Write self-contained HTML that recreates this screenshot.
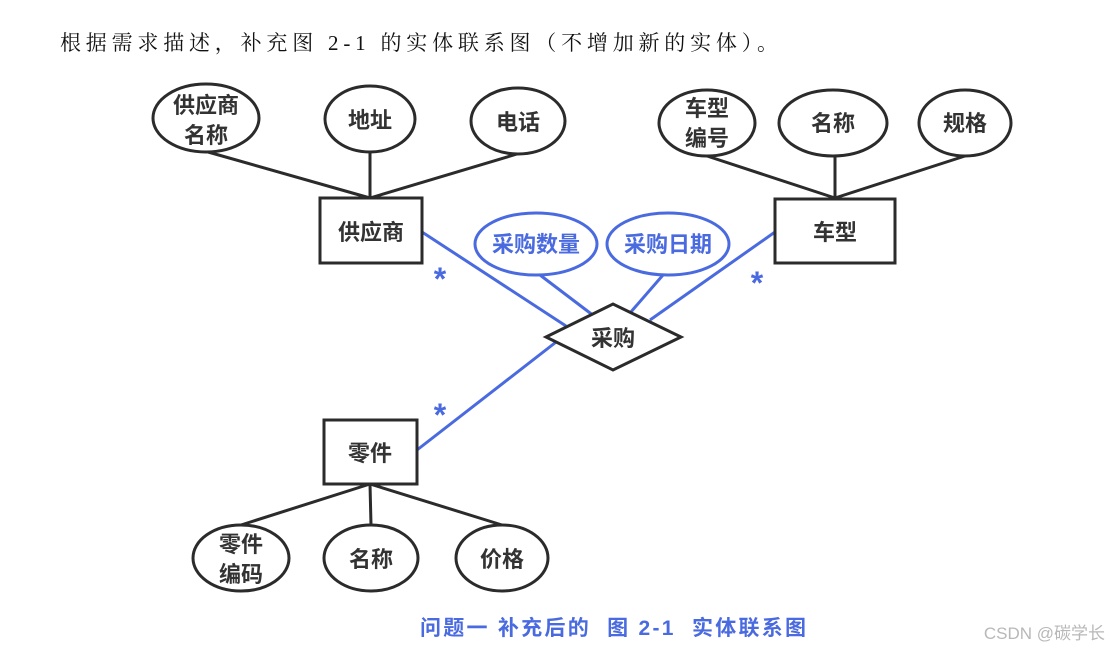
<!DOCTYPE html>
<html><head><meta charset="utf-8"><style>
body{margin:0;background:#fff;width:1111px;height:651px;overflow:hidden}
svg text{font-family:"Liberation Sans","Noto Sans CJK SC",sans-serif}
</style></head><body>
<svg width="1111" height="651" viewBox="0 0 1111 651" xmlns="http://www.w3.org/2000/svg">
<text x="60" y="50" font-size="21" textLength="718" style="font-family:'Liberation Serif','Noto Serif CJK SC',serif" fill="#111">根据需求描述，补充图 2-1 的实体联系图（不增加新的实体）。</text>
<g stroke="#2b2b2b" stroke-width="3" fill="none">
<line x1="208" y1="152" x2="370" y2="198"/><line x1="370" y1="152" x2="370" y2="198"/><line x1="517" y1="154" x2="370" y2="198"/>
<line x1="707" y1="156" x2="835" y2="198"/><line x1="835" y1="156" x2="835" y2="198"/><line x1="965" y1="156" x2="835" y2="198"/>
<line x1="241" y1="525" x2="370" y2="484"/><line x1="371" y1="525" x2="370" y2="484"/><line x1="502" y1="525" x2="370" y2="484"/>
</g>
<g stroke="#4a6ae0" stroke-width="3" fill="none">
<line x1="422" y1="232" x2="566" y2="326"/><line x1="775" y1="232" x2="650" y2="320"/><line x1="417" y1="450" x2="578" y2="325"/>
<line x1="540" y1="275" x2="594" y2="316"/><line x1="663" y1="275" x2="630" y2="313"/>
</g>
<g stroke="#2b2b2b" stroke-width="3" fill="#fff">
<ellipse cx="206" cy="118" rx="53" ry="34"/><ellipse cx="370" cy="119" rx="45" ry="33"/><ellipse cx="518" cy="121" rx="47" ry="33"/>
<ellipse cx="707" cy="123" rx="48" ry="33"/><ellipse cx="833" cy="123" rx="54" ry="33"/><ellipse cx="965" cy="123" rx="46" ry="33"/>
<ellipse cx="241" cy="558" rx="48" ry="33"/><ellipse cx="371" cy="558" rx="47" ry="33"/><ellipse cx="502" cy="558" rx="46" ry="33"/>
<rect x="320" y="198" width="102" height="65"/><rect x="775" y="199" width="120" height="64"/><rect x="324" y="420" width="93" height="64"/>
<polygon points="546,337 613,304 681,337 613,370"/>
</g>
<g stroke="#4a6ae0" stroke-width="3" fill="#fff">
<ellipse cx="536" cy="244" rx="61" ry="31"/><ellipse cx="668" cy="244" rx="61" ry="31"/>
</g>
<g font-size="22" font-weight="bold" fill="#333" text-anchor="middle">
<text x="206" y="113">供应商</text><text x="206" y="143">名称</text>
<text x="370" y="128">地址</text><text x="518" y="130">电话</text>
<text x="707" y="116">车型</text><text x="707" y="146">编号</text>
<text x="833" y="131">名称</text><text x="965" y="131">规格</text>
<text x="241" y="552">零件</text><text x="241" y="582">编码</text>
<text x="371" y="567">名称</text><text x="502" y="567">价格</text>
<text x="371" y="240">供应商</text><text x="835" y="240">车型</text><text x="370" y="461">零件</text>
<text x="613" y="346">采购</text>
</g>
<g font-size="22" font-weight="bold" fill="#4a6ae0" text-anchor="middle">
<text x="536" y="252">采购数量</text><text x="668" y="252">采购日期</text>
<text x="440" y="290" font-size="32">*</text><text x="757" y="294" font-size="32">*</text><text x="440" y="426" font-size="32">*</text>
</g>
<text x="420" y="635" font-size="21" font-weight="bold" fill="#4a6ae0" textLength="386" xml:space="preserve">问题一 补充后的  图 2-1  实体联系图</text>
<text x="1105" y="639" font-size="17" fill="#b8b8b8" text-anchor="end">CSDN @碳学长</text>
</svg>
</body></html>
